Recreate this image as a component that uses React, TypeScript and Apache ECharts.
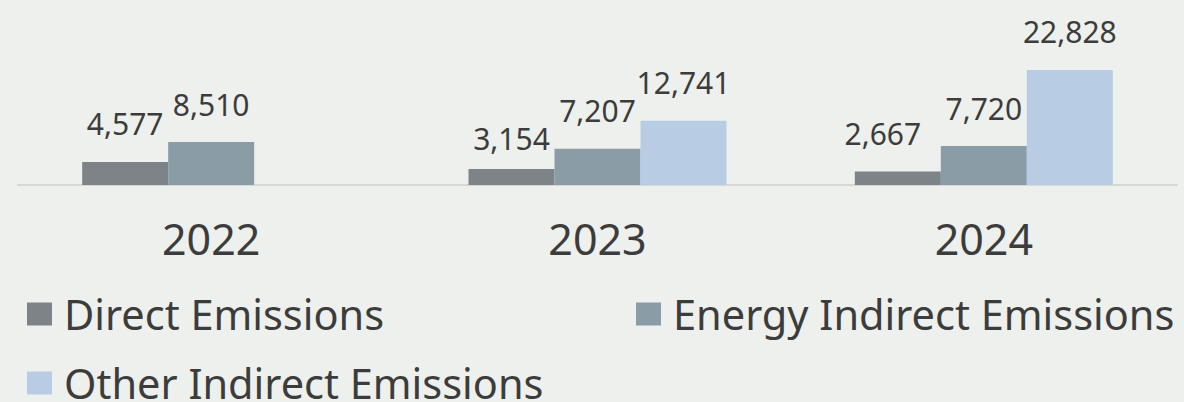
import React, { useEffect, useRef } from "react";
import * as echarts from "echarts";

const years = ["2022", "2023", "2024"];
const seriesNames = ["Direct Emissions", "Energy Indirect Emissions", "Other Indirect Emissions"];
const directValues = [4577, 3154, 2667];
const energyValues = [8510, 7207, 7720];
const otherValues: (number | null)[] = [null, 12741, 22828];

const colors = ["#7e8388", "#8a9da7", "#b8cce4"];
const FONT = "'Noto Sans', 'Open Sans', sans-serif";
const TEXT = "#3c3c3c";

export default function App() {
  const ref = useRef<HTMLDivElement>(null);
  useEffect(() => {
    if (!ref.current) return;
    const chart = echarts.init(ref.current, undefined, { renderer: "svg" });
    const labelBase = {
      show: true,
      position: "top",
      distance: 23,
      fontSize: 30,
      fontFamily: FONT,
      color: TEXT,
      formatter: (p: any) => Number(p.value).toLocaleString("en-US"),
    };
    const fmtData = (arr: (number | null)[], offsets: Record<number, number[]>) =>
      arr.map((v, i) => (offsets[i] ? { value: v, label: { offset: offsets[i] } } : v));
    const legendBase = {
      orient: "horizontal",
      padding: 0,
      itemWidth: 25,
      itemHeight: 23,
      icon: "rect",
      textStyle: {
        fontSize: 41.5,
        fontFamily: FONT,
        color: TEXT,
        padding: [0, 0, 4, 7],
        lineHeight: 34,
      },
    };
    chart.setOption({
      animation: false,
      backgroundColor: "#edf0ec",
      color: colors,
      grid: { left: 18, right: 7, top: 59, bottom: 217, containLabel: false },
      legend: [
        { ...legendBase, left: 27, top: 293, data: [seriesNames[0]] },
        { ...legendBase, left: 636, top: 293, data: [seriesNames[1]] },
        { ...legendBase, left: 27, top: 362, data: [seriesNames[2]] },
      ],
      xAxis: {
        type: "category",
        data: years,
        axisLine: { show: true, lineStyle: { color: "#d5d8d5", width: 2 } },
        axisTick: { show: false },
        axisLabel: { fontSize: 43, fontFamily: FONT, color: TEXT, margin: 32 },
      },
      yAxis: {
        type: "value",
        min: 0,
        max: 25000,
        show: false,
        splitLine: { show: false },
      },
      series: [
        {
          name: seriesNames[0],
          type: "bar",
          barWidth: 86,
          barGap: "0%",
          data: fmtData(directValues, { 1: [0, 7], 2: [-15, 0] }),
          label: labelBase,
        },
        {
          name: seriesNames[1],
          type: "bar",
          barWidth: 86,
          barGap: "0%",
          data: energyValues,
          label: labelBase,
        },
        {
          name: seriesNames[2],
          type: "bar",
          barWidth: 86,
          barGap: "0%",
          data: otherValues,
          label: labelBase,
        },
      ],
    });
    return () => chart.dispose();
  }, []);
  return (
    <div
      ref={ref}
      style={{ position: "fixed", left: 0, top: 0, width: 1184, height: 402 }}
    />
  );
}
